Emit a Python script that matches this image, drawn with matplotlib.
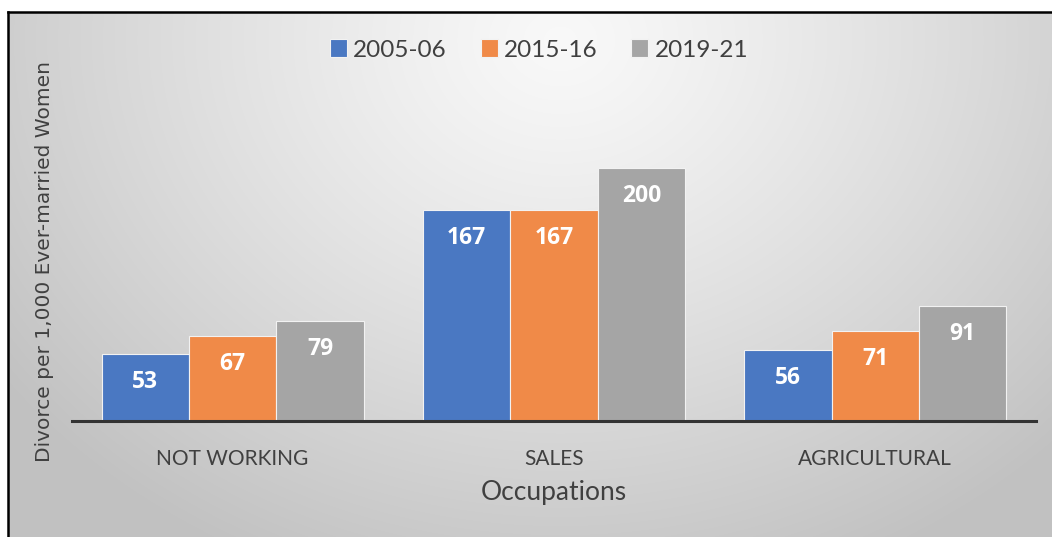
import numpy as np
import matplotlib
matplotlib.use("Agg")
import matplotlib.pyplot as plt
from matplotlib.patches import Rectangle
from matplotlib.lines import Line2D

categories = ["NOT WORKING", "SALES", "AGRICULTURAL"]
series_names = ["2005-06", "2015-16", "2019-21"]
v_2005 = [53, 167, 56]
v_2015 = [67, 167, 71]
v_2019 = [79, 200, 91]
values = [v_2005, v_2015, v_2019]
colors = ["#4A78C2", "#F08A48", "#A5A5A5"]

W, H = 1052, 537
fig = plt.figure(figsize=(W / 100, H / 100), dpi=100)
fig.patch.set_facecolor("white")

# background gradient (styling)
bg = fig.add_axes([0, 0, 1, 1], zorder=0)
yy, xx = np.mgrid[0:H, 0:W]
d = np.sqrt(((xx - 560) / 620.0) ** 2 + ((yy - 40) / 520.0) ** 2)
g = np.clip(0.975 - 0.19 * d ** 1.2, 0.76, 0.975)
img = np.dstack([g, g, g])
bg.imshow(img, extent=[0, W, H, 0], aspect="auto", interpolation="bilinear")
bg.set_xlim(0, W)
bg.set_ylim(H, 0)
bg.axis("off")
# white margins outside the frame
bg.add_patch(Rectangle((0, 0), W, 12, facecolor="white", edgecolor="none", zorder=2))
bg.add_patch(Rectangle((0, 0), 8, H, facecolor="white", edgecolor="none", zorder=2))
bg.add_line(Line2D([8, W + 5], [12, 12], color="black", lw=1.8, zorder=3))
bg.add_line(Line2D([8, 8], [12, H + 5], color="black", lw=1.8, zorder=3))

# main axes
left, right, base = 72, 1036, 421
ymax = 250
scale = 1.265
top = base - ymax * scale
ax = fig.add_axes([left / W, (H - base) / H, (right - left) / W, (base - top) / H], zorder=1)
ax.patch.set_alpha(0)
x = np.arange(len(categories))
bw = 0.272
for i, (vals, c, name) in enumerate(zip(values, colors, series_names)):
    pos = x + (i - 1) * bw
    bars = ax.bar(pos, vals, width=bw, color=c, edgecolor="#F2F2F2", linewidth=0.8, label=name)
    for b, v in zip(bars, vals):
        ax.annotate(str(v), (b.get_x() + b.get_width() / 2, v), xytext=(0, -28),
                    textcoords="offset pixels", ha="center", va="center",
                    color="white", fontsize=16.5, fontweight="bold", family="Open Sans")

ax.set_xlim(-0.5, 2.5)
ax.set_ylim(0, ymax)
for s in ["top", "right", "left"]:
    ax.spines[s].set_visible(False)
ax.spines["bottom"].set_color("#333333")
ax.spines["bottom"].set_linewidth(2.2)
ax.set_yticks([])
ax.set_xticks(x)
ax.set_xticklabels(categories, fontsize=15, color="#404040", family="Lato")
ax.tick_params(axis="x", length=0, pad=20)
ax.set_xlabel("Occupations", fontsize=19, color="#404040", family="Lato", labelpad=8)

fig.text(45 / W, 1 - 262 / H, "Divorce per 1,000 Ever-married Women", rotation=90,
         ha="center", va="center", fontsize=14.5, color="#404040", family="DejaVu Sans")

leg = fig.legend(loc="center", bbox_to_anchor=(539 / W, 1 - 50 / H), ncol=3, frameon=False,
                 prop={"family": "Lato", "size": 17.5}, labelcolor="#404040",
                 handlelength=0.7, handleheight=0.7, handletextpad=0.25, columnspacing=1.4)

fig.savefig("out.png", dpi=100)
